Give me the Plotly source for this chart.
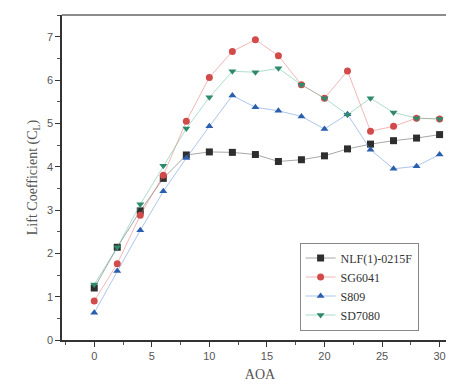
import plotly.graph_objects as go

aoa = [0, 2, 4, 6, 8, 10, 12, 14, 16, 18, 20, 22, 24, 26, 28, 30]
nlf = [1.20, 2.14, 2.98, 3.73, 4.27, 4.34, 4.33, 4.28, 4.12, 4.16, 4.25, 4.41, 4.52, 4.60, 4.66, 4.74]
sg6041 = [0.90, 1.76, 2.88, 3.80, 5.05, 6.06, 6.66, 6.93, 6.56, 5.89, 5.58, 6.21, 4.82, 4.93, 5.12, 5.10]
s809 = [0.63, 1.59, 2.53, 3.43, 4.20, 4.93, 5.64, 5.37, 5.29, 5.16, 4.87, 5.21, 4.39, 3.95, 4.01, 4.28]
sd7080 = [1.28, 2.14, 3.13, 4.02, 4.88, 5.60, 6.20, 6.18, 6.27, 5.89, 5.58, 5.20, 5.58, 5.25, 5.12, 5.10]

series = [
    ("NLF(1)-0215F", nlf, "square", "#2e2e2e", "rgba(80,80,80,0.5)"),
    ("SG6041", sg6041, "circle", "#d24a4a", "rgba(230,110,110,0.5)"),
    ("S809", s809, "triangle-up", "#2b5fae", "rgba(90,140,220,0.5)"),
    ("SD7080", sd7080, "triangle-down", "#2f8a6c", "rgba(90,190,150,0.5)"),
]

fig = go.Figure()
for name, ys, sym, mc, lc in series:
    fig.add_trace(go.Scatter(
        x=aoa, y=ys, name=name, mode="lines+markers",
        line=dict(color=lc, width=1),
        marker=dict(symbol=sym, size=7, color=mc),
    ))

serif = "Liberation Serif, Times New Roman, serif"
axis_font = dict(family="Liberation Sans, Arial, sans-serif", size=11, color="#555")
fig.update_layout(
    width=454, height=385,
    margin=dict(l=54, r=4, t=7, b=53),
    paper_bgcolor="white", plot_bgcolor="white",
    showlegend=True,
    legend=dict(
        x=0.6, y=0.3, xanchor="left", yanchor="top",
        bordercolor="#888", borderwidth=1, bgcolor="white",
        font=dict(family=serif, size=12, color="#333"),
        tracegroupgap=0, itemwidth=30,
    ),
    xaxis=dict(
        range=[-2.8, 31.6], tickvals=[0, 5, 10, 15, 20, 25, 30],
        ticks="outside", ticklen=5, tickcolor="#333",
        minor=dict(dtick=2.5, tick0=0, ticks="outside", ticklen=3, tickcolor="#555"),
        showline=True, linecolor="#333", linewidth=1.5, mirror=False,
        showgrid=False, zeroline=False, tickfont=axis_font,
        title=dict(text="AOA", font=dict(family=serif, size=14, color="#555"), standoff=8),
    ),
    yaxis=dict(
        range=[0, 7.5], tickvals=[0, 1, 2, 3, 4, 5, 6, 7],
        ticks="outside", ticklen=5, tickcolor="#333",
        minor=dict(dtick=0.5, tick0=0, ticks="outside", ticklen=3, tickcolor="#555"),
        showline=True, linecolor="#333", linewidth=1.5, mirror=False,
        showgrid=False, zeroline=False, tickfont=axis_font,
        title=dict(text="Lift Coefficient (C<sub>L</sub>)", font=dict(family=serif, size=14, color="#555"), standoff=6),
    ),
)
fig.add_shape(type="line", xref="paper", yref="paper", x0=0, x1=1, y0=1, y1=1,
              line=dict(color="#666", width=1.5))

fig.write_html("out.html")
